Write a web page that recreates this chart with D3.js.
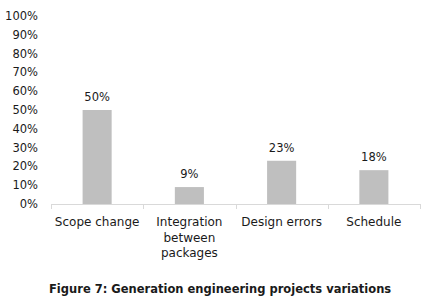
<!DOCTYPE html>
<html><head><meta charset="utf-8">
<script src="https://cdn.jsdelivr.net/npm/d3@7"></script>
<style>body{margin:0;background:#fff}</style>
</head><body>
<svg id="c" width="436" height="304"></svg>
<script>
const categories = [["Scope change"], ["Integration", "between", "packages"], ["Design errors"], ["Schedule"]];
const values = [50, 9, 23, 18];
const yTicks = [0, 10, 20, 30, 40, 50, 60, 70, 80, 90, 100];
const caption = "Figure 7: Generation engineering projects variations";

(function () {
const svg = d3.select("#c");
const font = "Tahoma, 'DejaVu Sans', Verdana, sans-serif";
const mLeft = 51, mRight = 420, mTop = 16, mBottom = 204;
const x = d3.scaleBand().domain(d3.range(categories.length)).range([mLeft, mRight]).paddingInner(0.685).paddingOuter(0.3425);
const y = d3.scaleLinear().domain([0, 100]).range([mBottom, mTop]);

svg.append("g").selectAll("text").data(yTicks).join("text")
  .attr("x", 38).attr("y", d => y(d)).attr("dy", "0.35em")
  .attr("text-anchor", "end").attr("font-family", font).attr("font-size", 11.5)
  .attr("fill", "#1a1a1a").text(d => d + "%");

svg.append("g").selectAll("rect").data(values).join("rect")
  .attr("x", (d, i) => x(i)).attr("width", x.bandwidth())
  .attr("y", d => y(d)).attr("height", d => mBottom - y(d)).attr("fill", "#bfbfbf");

svg.append("g").selectAll("text").data(values).join("text")
  .attr("x", (d, i) => x(i) + x.bandwidth() / 2).attr("y", d => y(d) - 9)
  .attr("text-anchor", "middle").attr("font-family", font).attr("font-size", 11.5)
  .attr("fill", "#1a1a1a").text(d => d + "%");

const step = (mRight - mLeft) / categories.length;
svg.append("line").attr("x1", mLeft).attr("x2", mRight).attr("y1", mBottom + 0.5).attr("y2", mBottom + 0.5)
  .attr("stroke", "#d9d9d9").attr("stroke-width", 1);
svg.append("g").selectAll("line").data(d3.range(categories.length + 1)).join("line")
  .attr("x1", i => Math.round(mLeft + i * step) + 0.5).attr("x2", i => Math.round(mLeft + i * step) + 0.5)
  .attr("y1", mBottom).attr("y2", mBottom + 5).attr("stroke", "#d9d9d9");

const cg = svg.append("g").selectAll("text").data(categories).join("text")
  .attr("x", (d, i) => x(i) + x.bandwidth() / 2).attr("y", 226)
  .attr("text-anchor", "middle").attr("font-family", font).attr("font-size", 12)
  .attr("fill", "#1a1a1a");
cg.selectAll("tspan").data(d => d).join("tspan")
  .attr("x", function () { return d3.select(this.parentNode).attr("x"); })
  .attr("dy", (d, i) => i === 0 ? 0 : 15.5).text(d => d);

svg.append("text").attr("x", 49).attr("y", 293).attr("font-family", font)
  .attr("font-size", 11.5).attr("font-weight", "bold").attr("fill", "#1a1a1a").text(caption);
})();
</script>
</body></html>
